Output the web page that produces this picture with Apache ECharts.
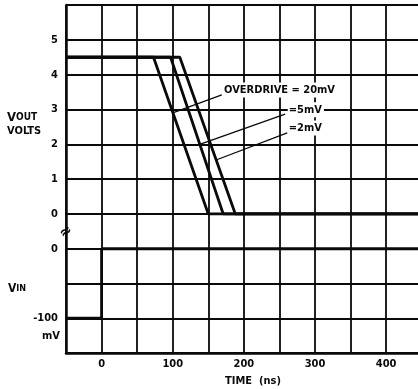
<!DOCTYPE html>
<html><head><meta charset="utf-8">
<script src="https://cdn.jsdelivr.net/npm/echarts@6/dist/echarts.min.js"></script>
<style>html,body{margin:0;padding:0;background:#fff}#c{width:418px;height:389px}</style>
</head><body><div id="c"></div>
<script>
// ---- data ----
const timeLabels = [0, 100, 200, 300, 400];          // ns
const voutLabels = [0, 1, 2, 3, 4, 5];               // volts
const vinLabels = [0, -100];                         // mV
const vout20mV = [[-50, 4.5], [73, 4.5], [150, 0], [445, 0]];
const vout5mV  = [[-50, 4.5], [97, 4.5], [171, 0], [445, 0]];
const vout2mV  = [[-50, 4.5], [110, 4.5], [188, 0], [445, 0]];
const vinTrace = [[-50, -100], [0, -100], [0, 0], [445, 0]];
const overdriveNames = ['OVERDRIVE = 20mV', '=5mV', '=2mV'];
// annotation anchors in data space
const annTextAt    = [[170, 3.56], [261, 2.99], [261, 2.47]];
const annArrowFrom = [[169, 3.42], [258, 2.87], [261, 2.33]];
const annArrowTo   = [[100, 2.9], [138, 2.0], [161, 1.55]];

const FONT = "'Liberation Sans Narrow','DejaVu Sans Condensed','Roboto Condensed','Liberation Sans',sans-serif";
const INK = '#0a0a0a';

const chart = echarts.init(document.getElementById('c'), null, {renderer: 'canvas'});
const splitStyle = {show: true, lineStyle: {color: INK, width: 1.8}};
const baseX = {type: 'value', min: -50, max: 449, interval: 50, splitLine: splitStyle, axisTick: {show: false}};

const lineSeries = (name, data, xi, yi, extra) => Object.assign({
  name, type: 'line', data, xAxisIndex: xi, yAxisIndex: yi,
  showSymbol: false, symbol: 'none', animation: false, silent: true,
  lineStyle: {color: INK, width: 2.8}
}, extra || {});

chart.setOption({
  animation: false,
  backgroundColor: '#fff',
  grid: [
    {left: 66, right: -3, top: 5, height: 209, outerBoundsMode: 'none', containLabel: false},
    {left: 66, right: -3, top: 214, height: 139, outerBoundsMode: 'none', containLabel: false}
  ],
  xAxis: [
    Object.assign({}, baseX, {gridIndex: 0, axisLabel: {show: false}, axisLine: {show: false}}),
    Object.assign({}, baseX, {gridIndex: 1,
      axisLine: {show: true, onZero: false, lineStyle: {color: INK, width: 2.5}},
      axisLabel: {show: true, margin: 6, color: INK, fontFamily: FONT, fontWeight: 'bold', fontSize: 11,
        formatter: v => timeLabels.includes(v) ? String(v) : ''}})
  ],
  yAxis: [
    {type: 'value', gridIndex: 0, min: 0, max: 6, interval: 1, splitLine: splitStyle,
      axisTick: {show: false},
      axisLine: {show: true, onZero: false, lineStyle: {color: INK, width: 2.5}},
      axisLabel: {margin: 8, color: INK, fontFamily: FONT, fontWeight: 'bold', fontSize: 11,
        formatter: v => voutLabels.includes(v) ? String(v) : ''}},
    {type: 'value', gridIndex: 1, min: -150, max: 50, interval: 50, splitLine: splitStyle,
      axisTick: {show: false},
      axisLine: {show: true, onZero: false, lineStyle: {color: INK, width: 2.5}},
      axisLabel: {margin: 8, color: INK, fontFamily: FONT, fontWeight: 'bold', fontSize: 11,
        formatter: v => vinLabels.includes(v) ? String(v) : ''}}
  ],
  series: [
    lineSeries('Overdrive 20mV', vout20mV, 0, 0, {
      markLine: {
        silent: true, animation: false,
        symbol: ['none', 'arrow'], symbolSize: [0, 7],
        lineStyle: {color: INK, width: 1.3, type: 'solid'},
        label: {show: false},
        data: annArrowFrom.map((f, i) => [{coord: f}, {coord: annArrowTo[i]}])
      },
      markPoint: {
        silent: true, animation: false,
        symbol: 'circle', symbolSize: 1, itemStyle: {color: 'rgba(0,0,0,0)'},
        label: {show: true, position: 'right', distance: 0, color: INK, fontFamily: FONT,
          fontWeight: 'bold', fontSize: 11, backgroundColor: '#fff', padding: [2, 2, 2, 1],
          formatter: p => overdriveNames[p.dataIndex]},
        data: annTextAt.map((c, i) => ({coord: c, name: overdriveNames[i]}))
      }
    }),
    lineSeries('Overdrive 5mV', vout5mV, 0, 0),
    lineSeries('Overdrive 2mV', vout2mV, 0, 0),
    lineSeries('VIN', vinTrace, 1, 1)
  ],
  graphic: [
    {type: 'text', left: 7, top: 111, style: {text: '{b|V}{s|OUT}', fill: INK,
      rich: {b: {fontFamily: FONT, fontWeight: 'bold', fontSize: 13, fill: INK},
             s: {fontFamily: FONT, fontWeight: 'bold', fontSize: 10, fill: INK}}}},
    {type: 'text', left: 7, top: 126, style: {text: 'VOLTS', fill: INK, fontFamily: FONT, fontWeight: 'bold', fontSize: 11}},
    {type: 'text', left: 8, top: 283, style: {text: '{b|V}{s|IN}', fill: INK,
      rich: {b: {fontFamily: FONT, fontWeight: 'bold', fontSize: 12, fill: INK},
             s: {fontFamily: FONT, fontWeight: 'bold', fontSize: 9, fill: INK}}}},
    {type: 'text', right: 358, top: 331, style: {text: 'mV', fill: INK, fontFamily: FONT, fontWeight: 'bold', fontSize: 11}},
    {type: 'text', left: 225, top: 376, style: {text: 'TIME  (ns)', fill: INK, fontFamily: FONT, fontWeight: 'bold', fontSize: 11}},
    {type: 'text', x: 66, y: 232, rotation: 0.6, style: {text: '≈', fill: INK, fontFamily: 'DejaVu Sans', fontWeight: 'bold', fontSize: 15, align: 'center', verticalAlign: 'middle', backgroundColor: '#fff'}}
  ]
});
</script></body></html>
